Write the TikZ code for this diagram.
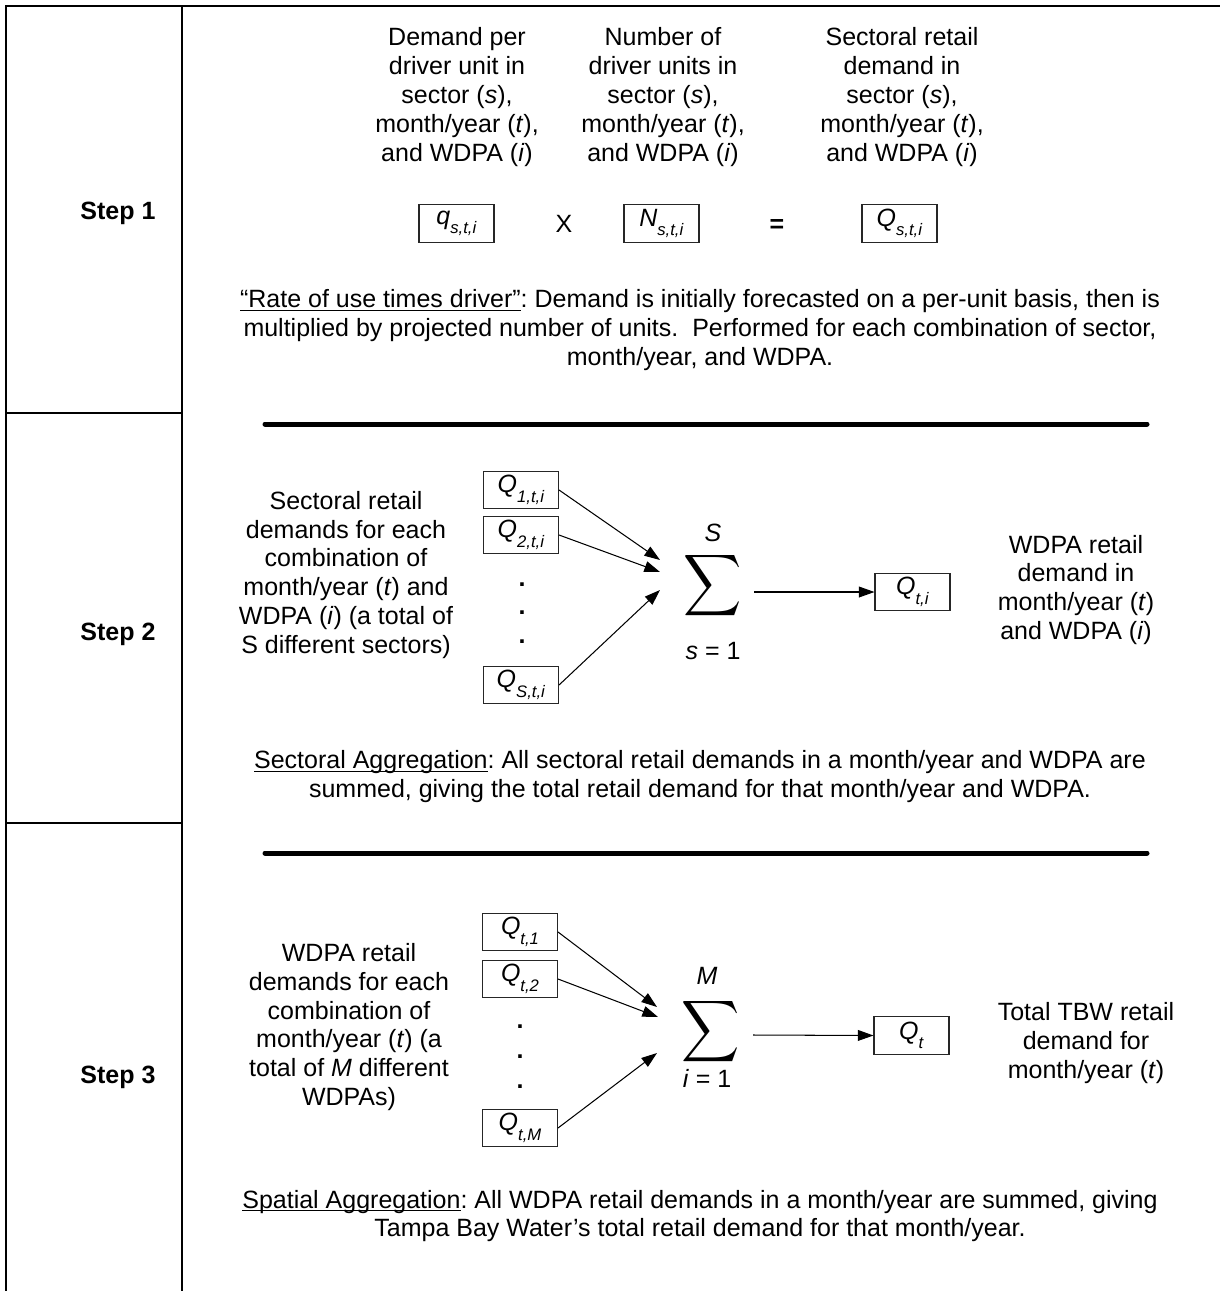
\documentclass[tikz,border=0pt]{standalone}
\usepackage{fontspec}
\setmainfont{Liberation Sans}
\usepackage{graphicx}
\usetikzlibrary{arrows.meta}
\frenchspacing
\newcommand\sbx[2]{\textit{#1}\raisebox{-4.5pt}{\fontsize{8}{8}\selectfont\textit{#2}}}
\newcommand\bigsum{\resizebox*{28pt}{33pt}{$\displaystyle\sum$}}
\newcommand\ulx[1]{\setbox0\hbox{#1}\rlap{\rule[-1.6pt]{\wd0}{0.6pt}}\box0}
\begin{document}
\begin{tikzpicture}[x=0.48pt,y=-0.48pt,
  every node/.style={font=\fontsize{12}{13.9}\selectfont, inner sep=0pt},
  txt/.style={align=center},
  vbox/.style={draw=black!85, line width=0.5pt, minimum width=36pt, minimum height=17.8pt, inner sep=0pt},
  sigma/.style={inner ysep=-2.4pt},
  arr/.style={-{Triangle[length=7.5pt,width=5.2pt]}, line width=0.5pt},
  tablerule/.style={line width=1pt},
  heavyrule/.style={line width=2.4pt, line cap=round},
  steplabel/.style={font=\fontsize{12}{13.9}\selectfont\bfseries}]
\useasboundingbox (0,0) rectangle (1220,1291);
% table
\draw[tablerule] (6,1291) -- (6,6) -- (1220,6);
\draw[tablerule] (182,6) -- (182,1291);
\draw[tablerule] (6,413) -- (182,413);
\draw[tablerule] (6,823) -- (182,823);
% step labels
\node[steplabel] (st1) at (118,213) {Step 1};
\node[steplabel] (st2) at (118,634) {Step 2};
\node[steplabel] (st3) at (118,1077) {Step 3};
% ---------- Step 1
\node[txt] (d1) at (457,97) {Demand per\\driver unit in\\sector (\textit{s}),\\month/year (\textit{t}),\\and WDPA (\textit{i})};
\node[txt] (d2) at (663,97) {Number of\\driver units in\\sector (\textit{s}),\\month/year (\textit{t}),\\and WDPA (\textit{i})};
\node[txt] (d3) at (902,97) {Sectoral retail\\demand in\\sector (\textit{s}),\\month/year (\textit{t}),\\and WDPA (\textit{i})};
\node[vbox] (q) at (456.5,223.5) {\sbx{q}{s,t,i}};
\node (times) at (564,224) {X};
\node[font=\fontsize{12}{13.9}\selectfont\bfseries] (eq) at (777,226) {=};
\node[vbox] (N) at (661.5,223.5) {\sbx{N}{s,t,i}};
\node[vbox] (Q) at (899.5,223.5) {\sbx{Q}{s,t,i}};
\node[txt] (p1) at (700,330) {\ulx{“Rate of use times driver”}: Demand is initially forecasted on a per-unit basis, then is\\multiplied by projected number of units.\ \ Performed for each combination of sector,\\month/year, and WDPA.};
\draw[heavyrule] (265,424) -- (1147,424);
% ---------- Step 2
\node[txt] (l2) at (346,575) {Sectoral retail\\demands for each\\combination of\\month/year (\textit{t}) and\\WDPA (\textit{i}) (a total of\\S different sectors)};
\node[vbox] (Q1) at (521,490) {\sbx{Q}{1,t,i}};
\node[vbox] (Q2) at (521,535) {\sbx{Q}{2,t,i}};
\node (dA1) at (522,585) {\textbf{.}};
\node (dA2) at (522,613) {\textbf{.}};
\node (dA3) at (522,642) {\textbf{.}};
\node[vbox] (QS) at (521,685) {\sbx{Q}{S,t,i}};
\node[sigma] (sig2) at (713,586) {\bigsum};
\node (sig2top) at (713,533) {\textit{S}};
\node (sig2bot) at (713,651) {\textit{s} = 1};
\coordinate (t21) at (660,560);
\coordinate (t22) at (660,572);
\coordinate (t23) at (660,590);
\draw[arr] (Q1.east) -- (t21);
\draw[arr] (Q2.east) -- (t22);
\draw[arr] (QS.east) -- (t23);
\node[vbox] (Qti) at (912.5,592) {\sbx{Q}{t,i}};
\coordinate (o2) at (754,592);
\draw[arr] (o2) -- (Qti.west);
\node[txt] (r2) at (1076,590) {WDPA retail\\demand in\\month/year (\textit{t})\\and WDPA (\textit{i})};
\node[txt] (p2) at (700,777) {\ulx{Sectoral Aggregation}: All sectoral retail demands in a month/year and WDPA are\\summed, giving the total retail demand for that month/year and WDPA.};
\draw[heavyrule] (265,853) -- (1147,853);
% ---------- Step 3
\node[txt] (l3) at (349,1027) {WDPA retail\\demands for each\\combination of\\month/year (\textit{t}) (a\\total of \textit{M} different\\WDPAs)};
\node[vbox] (P1) at (520,932) {\sbx{Q}{t,1}};
\node[vbox] (P2) at (520,979) {\sbx{Q}{t,2}};
\node (dB1) at (520,1027) {\textbf{.}};
\node (dB2) at (520,1057) {\textbf{.}};
\node (dB3) at (520,1087) {\textbf{.}};
\node[vbox] (PM) at (520,1128) {\sbx{Q}{t,M}};
\node[sigma] (sig3) at (711,1032) {\bigsum};
\node (sig3top) at (707,976) {\textit{M}};
\node (sig3bot) at (707,1078) {\textit{i} = 1};
\coordinate (t31) at (657,1007);
\coordinate (t32) at (658,1017);
\coordinate (t33) at (657,1053);
\draw[arr] (P1.east) -- (t31);
\draw[arr] (P2.east) -- (t32);
\draw[arr] (PM.east) -- (t33);
\node[vbox] (Qt) at (911.5,1035.5) {\sbx{Q}{t}};
\coordinate (o3) at (753,1035);
\draw[arr] (o3) -- (Qt.west);
\node[txt] (r3) at (1086,1043) {Total TBW retail\\demand for\\month/year (\textit{t})};
\node[txt] (p3) at (700,1216) {\ulx{Spatial Aggregation}: All WDPA retail demands in a month/year are summed, giving\\Tampa Bay Water’s total retail demand for that month/year.};
\end{tikzpicture}
\end{document}
